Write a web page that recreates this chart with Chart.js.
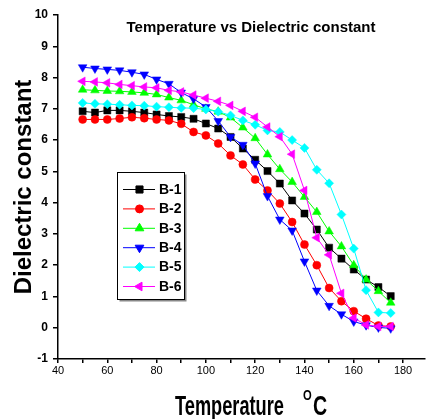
<!DOCTYPE html>
<html>
<head>
<meta charset="utf-8">
<script src="https://cdn.jsdelivr.net/npm/chart.js@4.4.1/dist/chart.umd.min.js"></script>
<style>
    body { margin: 0; background: #fff; }
    #wrap { width: 430px; height: 419px; }
</style>
</head>
<body>
<div id="wrap"><canvas id="chart" width="430" height="419"></canvas></div>
<script>
// Temperature (°C) of each measurement
const temps = [50, 55, 60, 65, 70, 75, 80, 85, 90, 95, 100, 105, 110, 115, 120, 125, 130, 135, 140, 145, 150, 155, 160, 165, 170, 175];

// Dielectric constant per sample
const b1 = [6.92, 6.88, 6.95, 6.95, 6.92, 6.88, 6.82, 6.77, 6.74, 6.68, 6.53, 6.37, 6.10, 5.73, 5.37, 5.01, 4.61, 4.07, 3.65, 3.14, 2.56, 2.21, 1.86, 1.54, 1.30, 1.01];
const b2 = [6.66, 6.66, 6.66, 6.69, 6.73, 6.70, 6.66, 6.63, 6.52, 6.26, 6.15, 5.89, 5.51, 5.22, 4.74, 4.39, 3.97, 3.38, 2.66, 2.00, 1.27, 0.85, 0.53, 0.29, 0.07, 0.04];
const b3 = [7.61, 7.59, 7.57, 7.56, 7.54, 7.51, 7.46, 7.36, 7.27, 7.13, 7.00, 6.91, 6.72, 6.40, 6.06, 5.54, 5.07, 4.66, 4.18, 3.70, 3.08, 2.60, 2.00, 1.54, 1.17, 0.80];
const b4 = [8.33, 8.29, 8.26, 8.23, 8.17, 8.10, 7.94, 7.80, 7.52, 7.32, 7.06, 6.61, 6.10, 5.85, 5.25, 4.21, 3.46, 3.11, 2.12, 1.19, 0.70, 0.43, 0.20, 0.08, 0.01, -0.02];
const b5 = [7.19, 7.16, 7.15, 7.13, 7.11, 7.10, 7.07, 7.05, 7.03, 7.02, 6.98, 6.91, 6.79, 6.63, 6.49, 6.31, 6.26, 6.00, 5.75, 5.05, 4.62, 3.62, 2.53, 1.20, 0.49, 0.47];
const b6 = [7.88, 7.86, 7.83, 7.78, 7.74, 7.70, 7.67, 7.59, 7.54, 7.44, 7.34, 7.24, 7.11, 6.92, 6.73, 6.42, 6.11, 5.55, 4.39, 2.88, 2.33, 1.10, 0.31, 0.09, 0.04, 0.04];

const seriesNames = ['B-1', 'B-2', 'B-3', 'B-4', 'B-5', 'B-6'];
const xTicks = [40, 50, 60, 70, 80, 90, 100, 110, 120, 130, 140, 150, 160, 170, 180];
const yTicks = [-1, 0, 1, 2, 3, 4, 5, 6, 7, 8, 9, 10];

const FONT = '"Liberation Sans", Arial, sans-serif';

// marker look of each series (Origin style)
const styles = [
    { color: '#000000', point: 'rect', rotation: 0, radius: 5 },
    { color: '#ff0000', point: 'circle', rotation: 0, radius: 4 },
    { color: '#00ff00', point: 'triangle', rotation: 0, radius: 5 },
    { color: '#0000ff', point: 'triangle', rotation: 180, radius: 5 },
    { color: '#00ffff', point: 'rectRot', rotation: 0, radius: 4.5 },
    { color: '#ff00ff', point: 'triangle', rotation: -90, radius: 5 }
];

const values = [b1, b2, b3, b4, b5, b6];

const datasets = values.map((vals, i) => ({
    label: seriesNames[i],
    data: vals.map((v, j) => ({ x: temps[j], y: v })),
    borderColor: styles[i].color,
    backgroundColor: styles[i].color,
    pointBackgroundColor: styles[i].color,
    pointBorderColor: styles[i].color,
    borderWidth: 1,
    pointBorderWidth: 0.5,
    pointStyle: styles[i].point,
    pointRotation: styles[i].rotation,
    pointRadius: styles[i].radius,
    tension: 0,
    order: values.length - i
}));

// title, inner legend and the x axis title
const decorations = {
    id: 'decorations',
    afterDraw(chart) {
        const ctx = chart.ctx;
        ctx.save();
        ctx.fillStyle = '#000';

        // chart title inside the plot
        ctx.font = 'bold 15px ' + FONT;
        ctx.textAlign = 'center';
        ctx.textBaseline = 'alphabetic';
        ctx.fillText('Temperature vs Dielectric constant', 251, 32);

        // legend box with shadow
        const bx = 117.5, by = 172.5, bw = 67, bh = 127;
        ctx.fillStyle = '#888';
        ctx.fillRect(bx + 2, by + 2, bw, bh);
        ctx.fillStyle = '#fff';
        ctx.fillRect(bx, by, bw, bh);
        ctx.strokeStyle = '#000';
        ctx.lineWidth = 1;
        ctx.strokeRect(bx, by, bw, bh);

        seriesNames.forEach((name, i) => {
            const y = 189.5 + i * 19.4;
            const st = styles[i];
            ctx.strokeStyle = st.color;
            ctx.fillStyle = st.color;
            ctx.lineWidth = 1;
            ctx.beginPath();
            ctx.moveTo(123, y);
            ctx.lineTo(155, y);
            ctx.stroke();
            Chart.helpers.drawPoint(ctx, {
                pointStyle: st.point,
                rotation: st.rotation,
                radius: st.radius,
                borderWidth: 0.5
            }, 139.5, y);
            ctx.fillStyle = '#000';
            ctx.font = 'bold 14px ' + FONT;
            ctx.textAlign = 'left';
            ctx.textBaseline = 'middle';
            ctx.fillText(name, 159, y + 0.5);
        });

        // x axis title, narrow bold type with a superscript O
        ctx.fillStyle = '#000';
        ctx.textAlign = 'left';
        ctx.textBaseline = 'alphabetic';
        ctx.save();
        ctx.translate(175, 415);
        ctx.scale(0.65, 1);
        ctx.font = 'bold 28px ' + FONT;
        ctx.fillText('Temperature', 0, 0);
        ctx.restore();
        ctx.save();
        ctx.translate(303, 400);
        ctx.scale(0.8, 1);
        ctx.font = 'bold 14px ' + FONT;
        ctx.fillText('O', 0, 0);
        ctx.restore();
        ctx.save();
        ctx.translate(313, 415);
        ctx.scale(0.7, 1);
        ctx.font = 'bold 28px ' + FONT;
        ctx.fillText('C', 0, 0);
        ctx.restore();

        ctx.restore();
    }
};

new Chart(document.getElementById('chart').getContext('2d'), {
    type: 'line',
    data: { datasets: datasets },
    options: {
        responsive: false,
        animation: false,
        layout: { padding: { top: 15, right: 0, bottom: 0, left: 0 } },
        plugins: {
            legend: { display: false },
            tooltip: { enabled: false }
        },
        scales: {
            x: {
                type: 'linear',
                min: 40,
                max: 188.7,
                afterBuildTicks: (scale) => { scale.ticks = xTicks.map(v => ({ value: v })); },
                afterFit: (scale) => { scale.height = 60; },
                ticks: {
                    color: '#000',
                    font: { family: FONT, size: 11, lineHeight: 1 },
                    padding: 2,
                    maxRotation: 0,
                    autoSkip: false,
                    callback: (v) => (v % 20 === 0 ? v : '')
                },
                grid: {
                    drawOnChartArea: false,
                    drawTicks: true,
                    tickLength: 4,
                    color: '#000',
                    lineWidth: 1.5
                },
                border: { color: '#000', width: 1.5 }
            },
            y: {
                type: 'linear',
                min: -1,
                max: 10,
                afterBuildTicks: (scale) => { scale.ticks = yTicks.map(v => ({ value: v })); },
                afterFit: (scale) => { scale.width = 58; },
                ticks: {
                    color: '#000',
                    font: { family: FONT, size: 12, weight: 'bold' },
                    padding: 5,
                    autoSkip: false
                },
                grid: {
                    drawOnChartArea: false,
                    drawTicks: true,
                    tickLength: 5,
                    color: '#000',
                    lineWidth: 1.5
                },
                border: { color: '#000', width: 1.5 },
                title: {
                    display: true,
                    text: 'Dielectric constant',
                    color: '#000',
                    font: { family: FONT, size: 24, weight: 'bold' },
                    padding: { top: 10, bottom: 0 }
                }
            }
        }
    },
    plugins: [decorations]
});
</script>
</body>
</html>
